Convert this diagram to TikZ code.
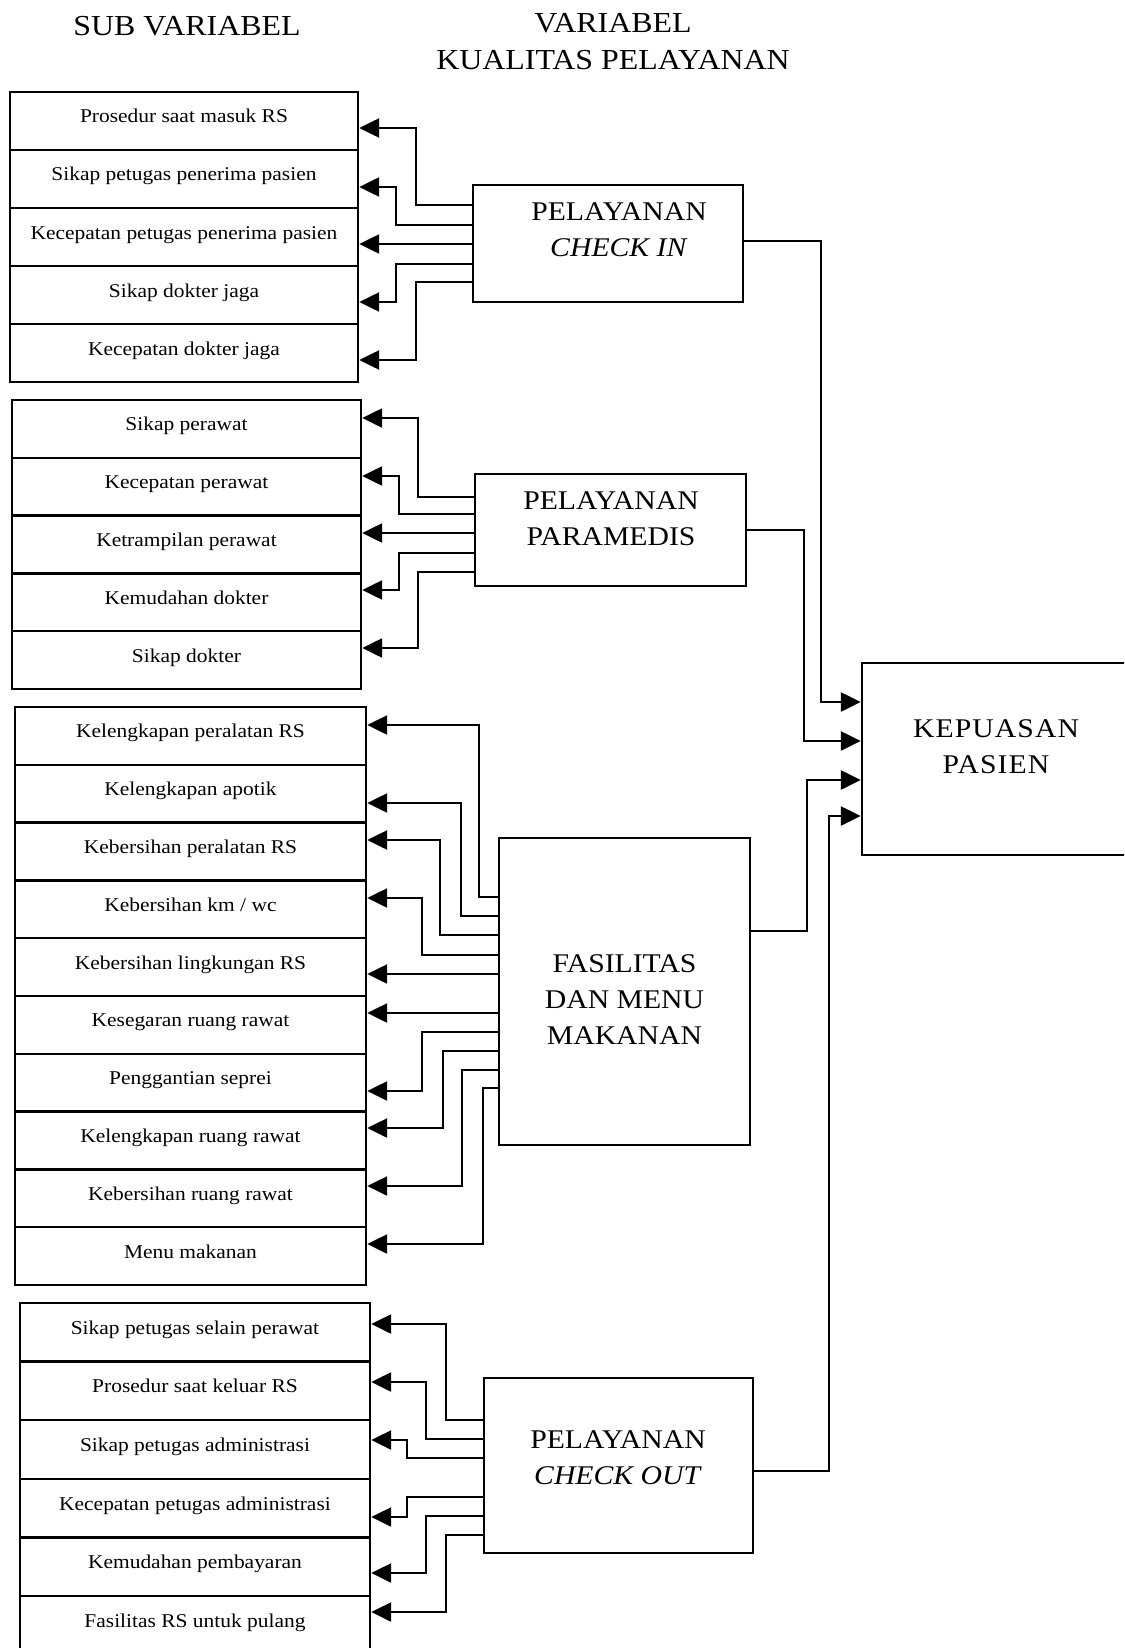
\documentclass[tikz,border=0pt]{standalone}
\usepackage{fontspec}
\setmainfont{Liberation Serif}[FakeStretch=1.1]
\newfontfamily\kpfont{Liberation Serif}[FakeStretch=1.1,LetterSpace=4]
\usetikzlibrary{arrows.meta}
\tikzset{
  rowbox/.style={draw, line width=2.4pt, inner sep=0pt, text height=13pt, text depth=9pt,
    font=\fontsize{19.5}{23}\selectfont},
  bigbox/.style={draw, line width=2.4pt, inner sep=0pt},
  bigtxt/.style={align=center, inner sep=0pt, font=\fontsize{27}{36}\selectfont},
  kptxt/.style={align=center, inner sep=0pt, font=\kpfont\fontsize{27}{36}\selectfont},
  titletxt/.style={align=center, inner sep=0pt, font=\fontsize{29}{37}\selectfont},
  arr/.style={line width=2.4pt, -{Triangle[length=20pt,width=19pt]}},
}
\begin{document}
\begin{tikzpicture}[x=1pt,y=-1pt]
\useasboundingbox (0,0) rectangle (1124,1648);
\fill[white] (0,0) rectangle (1124,1648);
\clip (0,0) rectangle (1124,1648);

% titles
\node[titletxt] (t1) at (187,26) {SUB VARIABEL};
\node[titletxt] (t2) at (613,42) {VARIABEL\\KUALITAS PELAYANAN};

% group 1
\foreach \t [count=\i] in {Prosedur saat masuk RS, Sikap petugas penerima pasien,
  Kecepatan petugas penerima pasien, Sikap dokter jaga, Kecepatan dokter jaga}
  \node[rowbox, minimum width=348pt, minimum height=58pt] (g1r\i) at (184,{92+58*(\i-0.5)}) {\t};
% group 2
\foreach \t [count=\i] in {Sikap perawat, Kecepatan perawat, Ketrampilan perawat,
  Kemudahan dokter, Sikap dokter}
  \node[rowbox, minimum width=349pt, minimum height=57.8pt] (g2r\i) at (186.5,{400+57.8*(\i-0.5)}) {\t};
% group 3
\foreach \t [count=\i] in {Kelengkapan peralatan RS, Kelengkapan apotik, Kebersihan peralatan RS,
  Kebersihan km / wc, Kebersihan lingkungan RS, Kesegaran ruang rawat, Penggantian seprei,
  Kelengkapan ruang rawat, Kebersihan ruang rawat, Menu makanan}
  \node[rowbox, minimum width=351pt, minimum height=57.8pt] (g3r\i) at (190.5,{707+57.8*(\i-0.5)}) {\t};
% group 4
\foreach \t [count=\i] in {Sikap petugas selain perawat, Prosedur saat keluar RS,
  Sikap petugas administrasi, Kecepatan petugas administrasi, Kemudahan pembayaran,
  Fasilitas RS untuk pulang}
  \node[rowbox, minimum width=350pt, minimum height=58.6pt] (g4r\i) at (195,{1303+58.6*(\i-0.5)}) {\t};

% service boxes
\node[bigbox, minimum width=270pt, minimum height=117pt] (ci) at (608,243.5) {};
\node[bigtxt] (cit) at (619,230) {PELAYANAN\\\textit{CHECK IN}};
\node[bigbox, minimum width=271pt, minimum height=112pt] (pm) at (610.5,530) {};
\node[bigtxt] (pmt) at (611,518.5) {PELAYANAN\\PARAMEDIS};
\node[bigbox, minimum width=251pt, minimum height=307pt] (fm) at (624.5,991.5) {};
\node[bigtxt] (fmt) at (624.5,1000) {FASILITAS\\DAN MENU\\MAKANAN};
\node[bigbox, minimum width=269pt, minimum height=175pt] (co) at (618.5,1465.5) {};
\node[bigtxt] (cot) at (618,1457.5) {PELAYANAN\\\textit{CHECK OUT}};
\node[bigbox, minimum width=268pt, minimum height=192pt] (kp) at (996,759) {};
\node[kptxt] (kpt) at (996,747) {KEPUASAN\\PASIEN};

% group 1 connectors
\draw[arr] (ci.west |- 0,205) -| (416,128) -- (g1r1.east |- 0,128);
\draw[arr] (ci.west |- 0,225) -| (396,187) -- (g1r2.east |- 0,187);
\draw[arr] (ci.west |- 0,244) -- (g1r3.east |- 0,244);
\draw[arr] (ci.west |- 0,264) -| (396,302) -- (g1r4.east |- 0,302);
\draw[arr] (ci.west |- 0,282) -| (416,360) -- (g1r5.east |- 0,360);

% group 2 connectors
\draw[arr] (pm.west |- 0,497) -| (418,418) -- (g2r1.east |- 0,418);
\draw[arr] (pm.west |- 0,514) -| (399,476) -- (g2r2.east |- 0,476);
\draw[arr] (pm.west |- 0,533) -- (g2r3.east |- 0,533);
\draw[arr] (pm.west |- 0,553) -| (399,590) -- (g2r4.east |- 0,590);
\draw[arr] (pm.west |- 0,572) -| (418,648) -- (g2r5.east |- 0,648);

% group 3 connectors
\draw[arr] (fm.west |- 0,897) -| (479,725) -- (g3r1.east |- 0,725);
\draw[arr] (fm.west |- 0,916) -| (461,803) -- (g3r2.east |- 0,803);
\draw[arr] (fm.west |- 0,935) -| (440,840) -- (g3r3.east |- 0,840);
\draw[arr] (fm.west |- 0,955) -| (422,898) -- (g3r4.east |- 0,898);
\draw[arr] (fm.west |- 0,974) -- (g3r5.east |- 0,974);
\draw[arr] (fm.west |- 0,1013) -- (g3r6.east |- 0,1013);
\draw[arr] (fm.west |- 0,1032) -| (422,1091) -- (g3r7.east |- 0,1091);
\draw[arr] (fm.west |- 0,1051) -| (443,1128) -- (g3r8.east |- 0,1128);
\draw[arr] (fm.west |- 0,1070) -| (462,1186) -- (g3r9.east |- 0,1186);
\draw[arr] (fm.west |- 0,1088) -| (483,1244) -- (g3r10.east |- 0,1244);

% group 4 connectors
\draw[arr] (co.west |- 0,1420) -| (446,1324) -- (g4r1.east |- 0,1324);
\draw[arr] (co.west |- 0,1439) -| (426,1382) -- (g4r2.east |- 0,1382);
\draw[arr] (co.west |- 0,1458) -| (407,1440) -- (g4r3.east |- 0,1440);
\draw[arr] (co.west |- 0,1497) -| (407,1517) -- (g4r4.east |- 0,1517);
\draw[arr] (co.west |- 0,1516) -| (426,1573) -- (g4r5.east |- 0,1573);
\draw[arr] (co.west |- 0,1535) -| (446,1612) -- (g4r6.east |- 0,1612);

% to KEPUASAN PASIEN
\draw[arr] (ci.east |- 0,241) -| (821,702) -- (kp.west |- 0,702);
\draw[arr] (pm.east |- 0,530) -| (804,741) -- (kp.west |- 0,741);
\draw[arr] (fm.east |- 0,931) -| (807,780) -- (kp.west |- 0,780);
\draw[arr] (co.east |- 0,1471) -| (829,816) -- (kp.west |- 0,816);
\end{tikzpicture}
\end{document}
